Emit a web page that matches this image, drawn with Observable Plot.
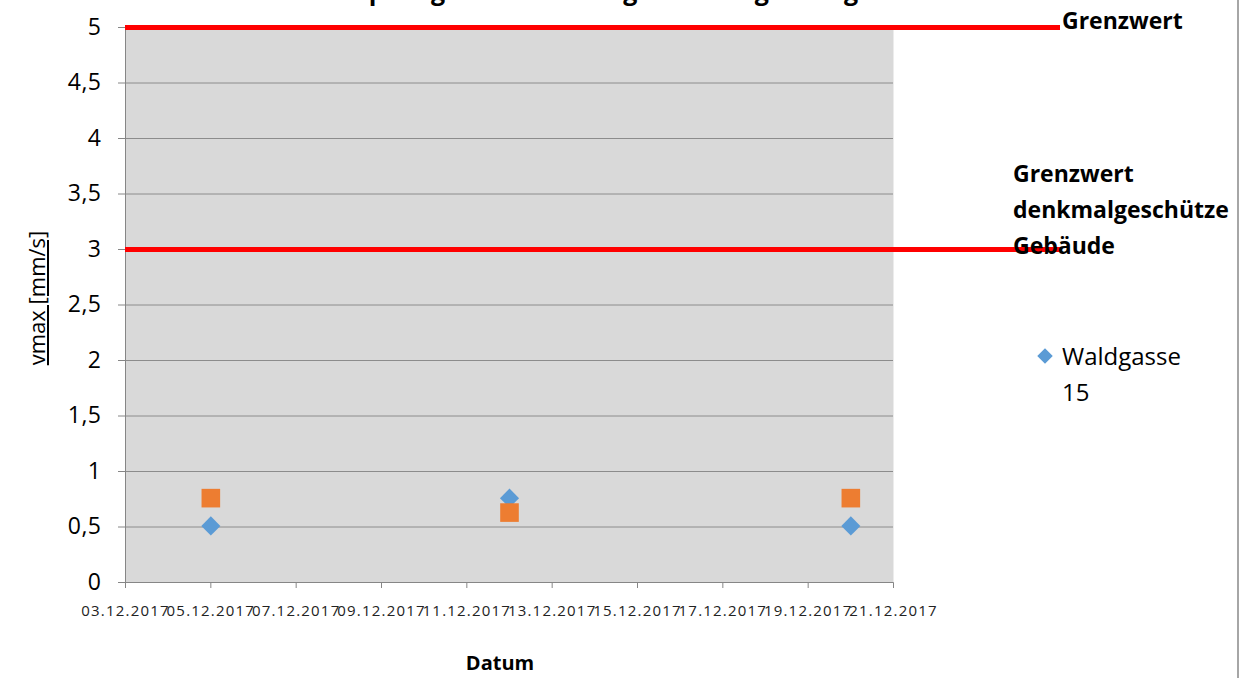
<!DOCTYPE html>
<html>
<head>
<meta charset="utf-8">
<script src="https://cdn.jsdelivr.net/npm/d3@7"></script>
<script src="https://cdn.jsdelivr.net/npm/@observablehq/plot@0.6"></script>
<style>
  html, body { margin: 0; padding: 0; background: #fff; }
  #wrap { position: relative; width: 1253px; height: 678px; overflow: hidden; font-family: "Open Sans", sans-serif; }
  #chart svg { display: block; }
  [aria-label="x-axis tick"] path, [aria-label="y-axis tick"] path,
  [aria-label="x-axis"] line, [aria-label="y-axis"] line { stroke: #868686; }
  [aria-label="y-axis tick label"], [aria-label="y-axis"] text { font-size: 23px; fill: #000; letter-spacing: 0.5px; }
  [aria-label="x-axis tick label"], [aria-label="x-axis"] text { font-size: 15px; fill: #222; letter-spacing: 1.2px; }
  .title { position: absolute; left: 5px; width: 1300px; top: -27px; text-align: center; font-weight: bold; font-size: 25px; letter-spacing: 1px; white-space: nowrap; }
  .ylab { position: absolute; left: 36px; top: 298px; transform: translate(-50%, -50%) rotate(-90deg); font-size: 22px; text-decoration: underline; white-space: nowrap; }
  .xlab { position: absolute; left: 500px; top: 662px; transform: translate(-50%, -50%); font-size: 20px; font-weight: bold; }
  .leg { position: absolute; font-size: 23px; line-height: 36px; white-space: nowrap; }
  .legb { font-weight: bold; }
  .border { position: absolute; left: 1237px; top: 0; width: 2px; height: 678px; background: #a6a6a6; }
  .dia { position: absolute; width: 11px; height: 11px; background: #5b9bd5; transform: translate(-50%, -50%) rotate(45deg); }
</style>
</head>
<body>
<div id="wrap">
  <div id="chart"></div>
</div>
<script>
// ---- data ----
const titleText = "Sprengerschütterungsmessung Waldgasse 15";
const measureDates = ["2017-12-05", "2017-12-12", "2017-12-20"];
const waldgasse15 = [0.51, 0.76, 0.51];
const secondSeries = [0.76, 0.63, 0.76];
const limitValues = [5, 3];
const limitLabels = ["Grenzwert", "Grenzwert denkmalgeschütze Gebäude"];
const seriesLabel = "Waldgasse 15";
const xTickDates = ["2017-12-03","2017-12-05","2017-12-07","2017-12-09","2017-12-11","2017-12-13","2017-12-15","2017-12-17","2017-12-19","2017-12-21"];
const yTickValues = [0, 0.5, 1, 1.5, 2, 2.5, 3, 3.5, 4, 4.5, 5];
const xAxisLabel = "Datum";
const yAxisLabel = "vmax [mm/s]";

// ---- tables ----
const parse = s => new Date(s + "T00:00:00Z");
const ptsA = measureDates.map((d, i) => ({date: parse(d), v: waldgasse15[i]}));
const ptsB = measureDates.map((d, i) => ({date: parse(d), v: secondSeries[i]}));
const xTicks = xTickDates.map(parse);
const fmtDate = d3.utcFormat("%d.%m.%Y");
const fmtNum = v => String(v).replace(".", ",");

const plot = Plot.plot({
  width: 1253,
  height: 678,
  marginLeft: 125,
  marginRight: 360,
  marginTop: 27,
  marginBottom: 96,
  style: {fontFamily: "Open Sans, sans-serif", background: "transparent", overflow: "visible"},
  x: {type: "utc", domain: [xTicks[0], xTicks[xTicks.length - 1]], ticks: xTicks, tickFormat: fmtDate, tickSize: 6, tickPadding: 17, label: null},
  y: {domain: [0, 5], ticks: yTickValues, tickFormat: fmtNum, tickSize: 7, tickPadding: 17, label: null},
  marks: [
    Plot.frame({fill: "#d9d9d9", stroke: "none"}),
    Plot.ruleY(yTickValues.filter(v => v > 0), {stroke: "#8c8c8c", strokeWidth: 1}),
    Plot.ruleX([xTicks[0]], {stroke: "#868686"}),
    Plot.ruleY([0], {stroke: "#868686"}),
    Plot.ruleY(limitValues, {stroke: "#ff0000", strokeWidth: 5, insetRight: -167}),
    Plot.dot(ptsA, {x: "date", y: "v", symbol: "diamond2", r: 8.6, fill: "#5b9bd5", stroke: "none"}),
    Plot.dot(ptsB, {x: "date", y: "v", symbol: "square", r: 10.5, fill: "#ed7d31", stroke: "none"})
  ]
});
const wrap = document.getElementById("wrap");
document.getElementById("chart").appendChild(plot);

function addDiv(cls, html, style) {
  const el = document.createElement("div");
  el.className = cls;
  el.innerHTML = html;
  Object.assign(el.style, style || {});
  wrap.appendChild(el);
  return el;
}
const ys = plot.scale("y");
addDiv("title", titleText);
addDiv("ylab", yAxisLabel);
addDiv("xlab", xAxisLabel);
addDiv("border", "");
// legend
addDiv("leg legb", limitLabels[0], {left: "1062px", top: (ys.apply(limitValues[0]) - 25) + "px"});
const w2 = limitLabels[1].split(" ");
addDiv("leg legb", w2.join("<br>"), {left: "1013px", top: (ys.apply(limitValues[1]) - 94) + "px"});
const w3 = seriesLabel.split(" ");
addDiv("leg", w3.join("<br>"), {left: "1062px", top: "338px", fontSize: "24px", lineHeight: "36px"});
addDiv("dia", "", {left: "1045px", top: "356px"});
</script>
</body>
</html>
